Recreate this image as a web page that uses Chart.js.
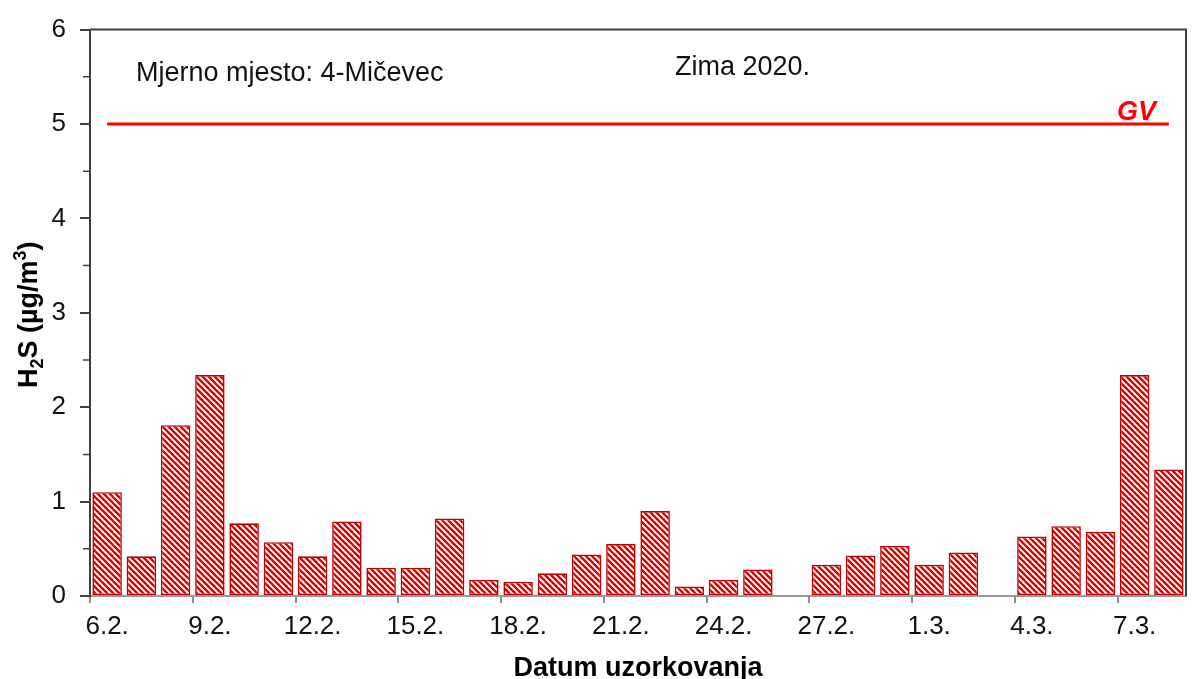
<!DOCTYPE html>
<html>
<head>
<meta charset="utf-8">
<script src="https://cdn.jsdelivr.net/npm/chart.js@4.4.1/dist/chart.umd.min.js"></script>
<style>
  html, body { margin: 0; padding: 0; background: #fff; }
</style>
</head>
<body>
<canvas id="h2sChart" width="1192" height="679"></canvas>
<script>
// sampling days, winter 2020
const dates = [
  '6.2.', '7.2.', '8.2.', '9.2.', '10.2.', '11.2.', '12.2.', '13.2.',
  '14.2.', '15.2.', '16.2.', '17.2.', '18.2.', '19.2.', '20.2.', '21.2.',
  '22.2.', '23.2.', '24.2.', '25.2.', '26.2.', '27.2.', '28.2.', '29.2.',
  '1.3.', '2.3.', '3.3.', '4.3.', '5.3.', '6.3.', '7.3.', '8.3.'
];
// H2S daily values, ug/m3 (null = no sample)
const h2s = [
  1.10, 0.42, 1.81, 2.34, 0.77, 0.57, 0.42, 0.79,
  0.30, 0.30, 0.82, 0.17, 0.15, 0.24, 0.44, 0.55,
  0.90, 0.10, 0.17, 0.28, null, 0.33, 0.43, 0.53,
  0.33, 0.46, null, 0.63, 0.74, 0.68, 2.34, 1.34
];
const gvLimit = 5;       // granicna vrijednost
const yMax = 6;
const labelEvery = 3;    // every 3rd date on the axis

const FONT = "'Liberation Sans', Arial, sans-serif";

// red "\\\" hatch like the excel fill
function hatchFill() {
  const s = 6;
  const c = document.createElement('canvas');
  c.width = s; c.height = s;
  const g = c.getContext('2d');
  g.fillStyle = '#fff';
  g.fillRect(0, 0, s, s);
  g.strokeStyle = '#e00000';
  g.lineWidth = 2.4;
  for (const k of [-s, 0, s]) {
    g.beginPath();
    g.moveTo(k - 1, -1);
    g.lineTo(k + s + 1, s + 1);
    g.stroke();
  }
  return g.createPattern(c, 'repeat');
}

const decor = {
  id: 'decor',
  afterDraw(chart) {
    const { ctx, chartArea: a, scales: { x, y } } = chart;
    ctx.save();

    // frame top + right
    ctx.strokeStyle = '#404040';
    ctx.lineWidth = 2;
    ctx.beginPath();
    ctx.moveTo(a.left, a.top);
    ctx.lineTo(a.right, a.top);
    ctx.lineTo(a.right, a.bottom);
    ctx.stroke();

    // minor ticks on y
    ctx.lineWidth = 1.5;
    ctx.beginPath();
    for (let v = 0.5; v < yMax; v += 1) {
      const py = y.getPixelForValue(v);
      ctx.moveTo(a.left - 7, py);
      ctx.lineTo(a.left, py);
    }
    ctx.stroke();

    // texts
    ctx.fillStyle = '#111';
    ctx.textBaseline = 'alphabetic';
    ctx.textAlign = 'left';
    ctx.font = '27px ' + FONT;
    ctx.fillText('Mjerno mjesto: 4-Mičevec', 136, 81);
    ctx.fillText('Zima 2020.', 675, 75);

    ctx.fillStyle = '#ff0000';
    ctx.font = 'italic bold 27px ' + FONT;
    ctx.textAlign = 'right';
    ctx.fillText('GV', 1156, y.getPixelForValue(gvLimit) - 4);

    // x title
    ctx.fillStyle = '#000';
    ctx.font = 'bold 27px ' + FONT;
    ctx.textAlign = 'center';
    ctx.fillText('Datum uzorkovanja', (a.left + a.right) / 2, 676);

    // y title with sub/superscript
    const big = 'bold 27px ' + FONT, small = 'bold 18px ' + FONT;
    const parts = [
      ['H', big, 0], ['2', small, 6], ['S (µg/m', big, 0], ['3', small, -11], [')', big, 0]
    ];
    let total = 0;
    for (const p of parts) { ctx.font = p[1]; total += ctx.measureText(p[0]).width; }
    ctx.translate(37, (a.top + a.bottom) / 2 + 2);
    ctx.rotate(-Math.PI / 2);
    ctx.textAlign = 'left';
    let px = -total / 2;
    for (const p of parts) {
      ctx.font = p[1];
      ctx.fillText(p[0], px, p[2]);
      px += ctx.measureText(p[0]).width;
    }
    ctx.restore();
  }
};

new Chart(document.getElementById('h2sChart'), {
  type: 'bar',
  data: {
    labels: dates,
    datasets: [
      {
        label: 'H2S',
        data: h2s,
        backgroundColor: hatchFill(),
        borderColor: '#c00000',
        borderWidth: 1.6,
        borderSkipped: false,
        barPercentage: 0.86,
        categoryPercentage: 1.0
      },
      {
        type: 'line',
        label: 'GV',
        data: [{ x: dates[0], y: gvLimit }, { x: dates[dates.length - 1], y: gvLimit }],
        borderColor: '#ff0000',
        borderWidth: 3,
        pointRadius: 0,
        fill: false
      }
    ]
  },
  options: {
    responsive: false,
    animation: false,
    layout: { padding: { top: 28, right: 6, left: 0, bottom: 0 } },
    plugins: { legend: { display: false }, tooltip: { enabled: false } },
    scales: {
      x: {
        offset: true,
        grid: {
          offset: true,
          drawOnChartArea: false,
          tickLength: 7,
          lineWidth: 2,
          color: (c) => (c.index % labelEvery === 0 ? '#8c8c8c' : 'rgba(0,0,0,0)')
        },
        border: { color: '#9a9a9a', width: 2 },
        ticks: {
          autoSkip: false,
          maxRotation: 0,
          padding: 8,
          color: '#111',
          font: { family: FONT, size: 26 },
          callback: (v, i) => (i % labelEvery === 0 ? dates[i] : '')
        },
        afterFit: (s) => { s.height = 83; }
      },
      y: {
        min: 0,
        max: yMax,
        ticks: {
          stepSize: 1,
          padding: 14,
          color: '#111',
          font: { family: FONT, size: 26 }
        },
        grid: { drawOnChartArea: false, tickLength: 10, lineWidth: 2, color: '#404040' },
        border: { color: '#404040', width: 2 },
        afterFit: (s) => { s.width = 90; }
      }
    }
  },
  plugins: [decor]
});
</script>
</body>
</html>
